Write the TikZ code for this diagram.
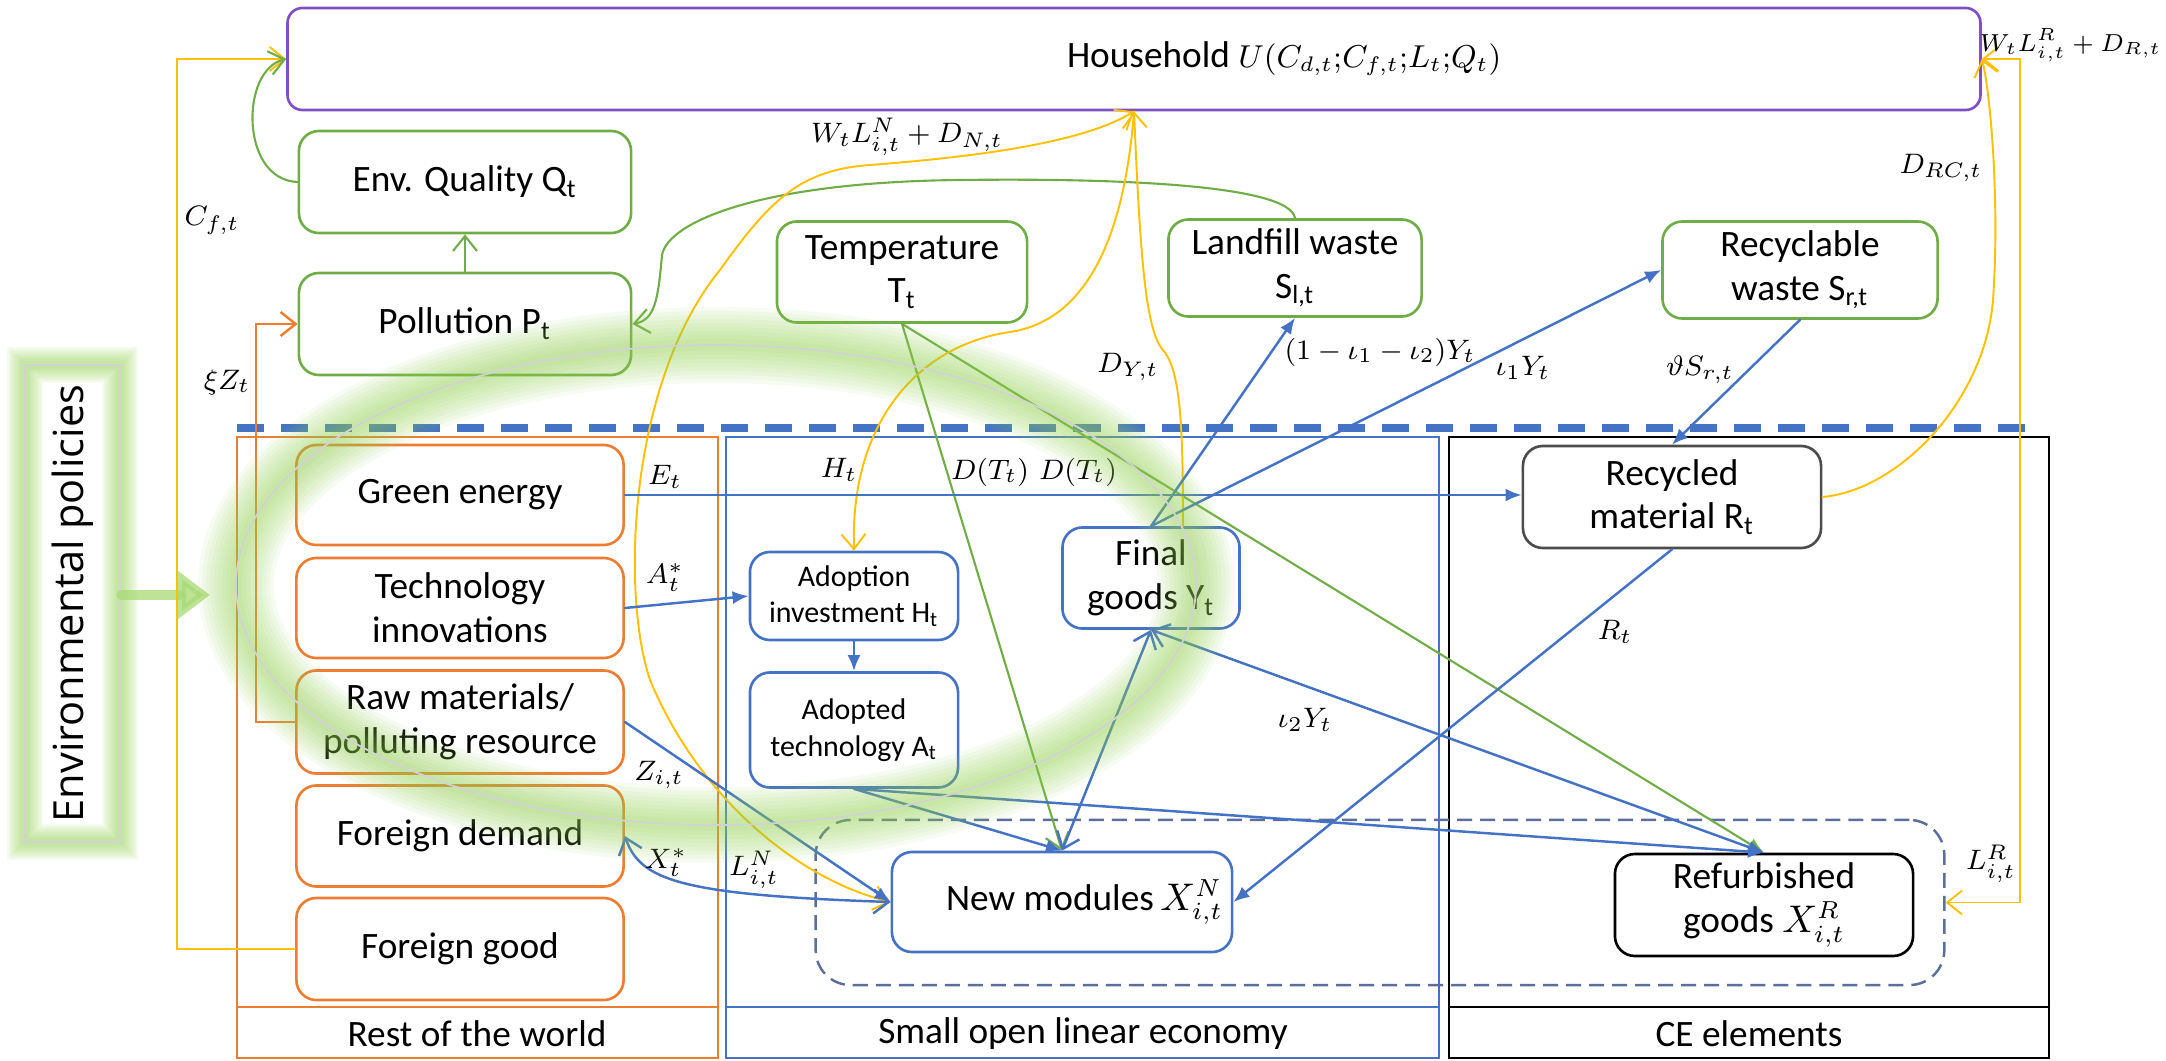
\documentclass[tikz,border=0pt]{standalone}
\usepackage{amsmath,amssymb}
\usepackage{fontspec}
\setmainfont{Carlito}
\newfontfamily\polfont{Open Sans}
\usetikzlibrary{arrows.meta}
\definecolor{gold}{HTML}{FFC000}
\definecolor{ogreen}{HTML}{70AD47}
\definecolor{oorange}{HTML}{ED7D31}
\definecolor{oblue}{HTML}{4472C4}
\definecolor{hpurple}{HTML}{7F4FC4}
\definecolor{glow}{HTML}{92D050}
\definecolor{dashc}{HTML}{5B6E9C}

\begin{document}
\begin{tikzpicture}[x=0.01cm,y=-0.01cm,line cap=round,font=\fontsize{10.6}{12.4}\selectfont,
  box/.style={draw,fill=white,rounded corners=0.2cm,align=center,inner sep=0pt,line width=0.75pt},
  gbox/.style={box,draw=ogreen},
  obox/.style={box,draw=oorange,minimum width=3.27cm},
  bbox/.style={box,draw=oblue},
  kbox/.style={box,draw=black!70},
  lbl/.style={inner sep=0pt,font=\fontsize{8.5}{10}\selectfont},
  bar/.style={-{Straight Barb[length=1.5mm,width=2.4mm]}},
  barbar/.style={{Straight Barb[length=1.5mm,width=2.4mm]}-{Straight Barb[length=1.5mm,width=2.4mm]}},
  tri/.style={-{Latex[length=1.6mm,width=1.3mm]}},
  yl/.style={gold,line width=0.55pt},
  gl/.style={ogreen,line width=0.6pt},
  bl/.style={oblue,line width=0.7pt},
  ol/.style={oorange,line width=0.7pt}]
\useasboundingbox (0,0) rectangle (2166,1061);

\draw[oorange,line width=0.6pt] (237,437) rectangle (718,1058);
\draw[oorange,line width=0.6pt] (237,1007) -- (718,1007);
\draw[oblue,line width=0.6pt] (726,437) rectangle (1439,1058);
\draw[oblue,line width=0.6pt] (726,1007) -- (1439,1007);
\draw[line width=0.7pt] (1449,437) rectangle (2049,1058);
\draw[line width=0.7pt] (1449,1007) -- (2049,1007);
\node (rowl) at (477,1034) {Rest of the world};
\node (sole) at (1083,1034) {Small open linear economy};
\node (cel) at (1749,1034) {CE elements};
\draw[oblue,line width=2pt,line cap=butt,dash pattern=on 0.27cm off 0.17cm] (237,428) -- (2040,428);
\node[draw=dashc,line width=0.7pt,line cap=butt,dash pattern=on 0.15cm off 0.08cm,rounded corners=0.35cm,minimum width=11.28cm,minimum height=1.65cm] (dashbox) at (1380,902.5) {};

\node[box,draw=hpurple,rounded corners=0.15cm,minimum width=16.92cm,minimum height=1.02cm] (hh) at (1134,59) {\hspace*{3cm}Household {\fontsize{9.2}{11}\selectfont$U(C_{d,t}{;}C_{f,t}{;}L_t{;}Q_t)$}};
\node[gbox,minimum width=3.32cm,minimum height=1.02cm] (envq) at (465,182) {Env. Quality Q\textsubscript{t}};
\node[gbox,minimum width=3.32cm,minimum height=1.02cm] (poll) at (465,324) {Pollution P\textsubscript{t}};
\node[gbox,minimum width=2.5cm,minimum height=1.01cm] (temp) at (902,272) {Temperature\\T\textsubscript{t}};
\node[gbox,minimum width=2.53cm,minimum height=0.97cm] (landf) at (1295,268) {Landfill waste\\S\textsubscript{l,t}};
\node[gbox,minimum width=2.75cm,minimum height=0.97cm] (recyc) at (1800,270) {Recyclable\\waste S\textsubscript{r,t}};

\node[obox,minimum height=1cm] (geng) at (460,495) {Green energy};
\node[obox,minimum height=1cm] (tech) at (460,608) {Technology\\innovations};
\node[obox,minimum height=1.03cm] (raw) at (460,722) {Raw materials/\\polluting resource};
\node[obox,minimum height=1.01cm] (fdem) at (460,836) {Foreign demand};
\node[obox,minimum height=1.02cm] (fgood) at (460,949) {Foreign good};

\node[bbox,minimum width=2.08cm,minimum height=0.88cm,font=\fontsize{8.5}{10.5}\selectfont] (adinv) at (854,596) {Adoption\\investment H\textsubscript{t}};
\node[bbox,minimum width=2.08cm,minimum height=1.15cm,font=\fontsize{8.5}{10.5}\selectfont] (adtech) at (854,730) {Adopted\\technology A\textsubscript{t}};
\node[bbox,minimum width=1.77cm,minimum height=1.01cm] (final) at (1151,578) {Final\\goods Y\textsubscript{t}};
\node[bbox,minimum width=3.4cm,minimum height=1cm] (newmod) at (1062,902) {\hspace*{0.45cm}New modules$\,X_{i,t}^{N}$};
\node[kbox,minimum width=2.98cm,minimum height=1.02cm] (recmat) at (1672,497) {Recycled\\material R\textsubscript{t}};
\node[box,draw=black,minimum width=2.98cm,minimum height=1.02cm] (refurb) at (1764,905) {Refurbished\\goods $X_{i,t}^{R}$};

\foreach \w in {3.6,3.2,...,0.4}
  \draw[glow,line width=\w mm,draw opacity=0.09] (25,365) rectangle (120,842);
\node[rotate=90,draw=gray!35,line width=0.5pt,minimum width=4.77cm,minimum height=0.95cm,font=\polfont\fontsize{11.8}{13}\selectfont] (envpol) at (72.5,603.5) {Environmental policies};
\coordinate (polin) at (210,595);
\draw[glow!80,line width=2.6pt,opacity=0.75,-{Triangle[length=3.2mm,width=4.6mm]}] (envpol.south |- polin) -- (polin);

\draw[yl,bar] (fgood.west) -- ++(-118,0) |- (hh.west);
\draw[ol,bar] (raw.west) -- ++(-39,0) |- (poll.west);
\draw[gl,bar] (poll.north) -- (envq.south);
\draw[gl,bar] (envq.west) .. controls (240,180) and (240,70) .. (hh.west);
\draw[gl,bar] (landf.north) .. controls (1290,185) and (1120,178) .. (960,180) .. controls (760,182) and (668,222) .. (662,255) .. controls (658,300) and (655,320) .. (poll.east);
\draw[gl,bar] (temp.south) -- (newmod.north);
\draw[gl,tri] (temp.south) -- (refurb.north);

\draw[yl,barbar] (newmod.west) .. controls (800,880) and (700,800) .. (650,680) .. controls (620,590) and (630,380) .. (720,270) .. controls (770,200) and (800,170) .. (870,165) .. controls (960,158) and (1080,145) .. (hh.south);
\draw[yl,bar] (hh.south) .. controls (1125,230) and (1090,320) .. (1010,332) .. controls (920,345) and (850,420) .. (adinv.north);
\draw[yl,bar] ([xshift=0.32cm]final.north) .. controls (1183,420) and (1180,370) .. (1163,350) .. controls (1145,330) and (1140,250) .. (hh.south);
\draw[yl,bar] (recmat.east) .. controls (1900,490) and (1985,400) .. (1993,300) .. controls (2000,200) and (1990,90) .. (hh.east);
\draw[yl,barbar] (dashbox.east) -- ++(74,0) |- (hh.east);

\draw[bl,tri] (geng.east) -- (geng.east -| recmat.west);
\draw[bl,tri] (tech.east) -- (adinv.west);
\draw[bl,tri] (adinv.south) -- (adtech.north);
\draw[bl,tri] (raw.east) -- (newmod.west);
\draw[bl,barbar] (fdem.east) .. controls (640,880) and (680,895) .. (newmod.west);
\draw[bl,tri] (adtech.south) -- (newmod.north);
\draw[bl,tri] (adtech.south) -- (refurb.north);
\draw[bl,barbar] (newmod.north) -- (final.south);
\draw[bl,{Straight Barb[length=1.5mm,width=2.4mm]}-{Latex[length=1.6mm,width=1.3mm]}] (final.south) -- (refurb.north);
\draw[bl,tri] (final.north) -- (landf.south);
\draw[bl,tri] (final.north) -- (recyc.west);
\draw[bl,tri] (recyc.south) -- (recmat.north);
\draw[bl,tri] (recmat.south) -- (newmod.east);

\node[lbl] (lcf) at (212,220) {$C_{f,t}$};
\node[lbl] (lxi) at (227,382) {$\xi Z_t$};
\node[lbl] (lwn) at (907,137) {$W_tL_{i,t}^{N}+D_{N,t}$};
\node[lbl,anchor=east,font=\fontsize{7.3}{9}\selectfont] (lwr) at (2162,45) {$W_tL_{i,t}^{R}+D_{R,t}$};
\node[lbl] (ldrc) at (1941,168) {$D_{RC,t}$};
\node[lbl] (ldy) at (1128,367) {$D_{Y,t}$};
\node[lbl] (lland) at (1380,352) {$(1-\iota_1-\iota_2)Y_t$};
\node[lbl] (lio) at (1523,368) {$\iota_1Y_t$};
\node[lbl] (lvth) at (1700,370) {$\vartheta S_{r,t}$};
\node[lbl] (let) at (665,477) {$E_t$};
\node[lbl] (lht) at (839,470) {$H_t$};
\node[lbl] (ldta) at (990,472) {$D(T_t)$};
\node[lbl] (ldtb) at (1078,472) {$D(T_t)$};
\node[lbl] (last) at (665,578) {$A_t^{*}$};
\node[lbl] (lit) at (1305,720) {$\iota_2Y_t$};
\node[lbl] (lrt) at (1615,632) {$R_t$};
\node[lbl] (lz) at (659,775) {$Z_{i,t}$};
\node[lbl] (lxs) at (666,863) {$X_t^{*}$};
\node[lbl] (lln) at (754,870) {$L_{i,t}^{N}$};
\node[lbl] (llr) at (1991,864) {$L_{i,t}^{R}$};

\foreach \w in {7.6,6.8,...,0.4}
  \draw[glow,line width=\w mm,draw opacity=0.075] (716,585) ellipse [x radius=480,y radius=240];
\draw[gray!35,line width=0.5pt] (716,585) ellipse [x radius=480,y radius=240];
\end{tikzpicture}
\end{document}
